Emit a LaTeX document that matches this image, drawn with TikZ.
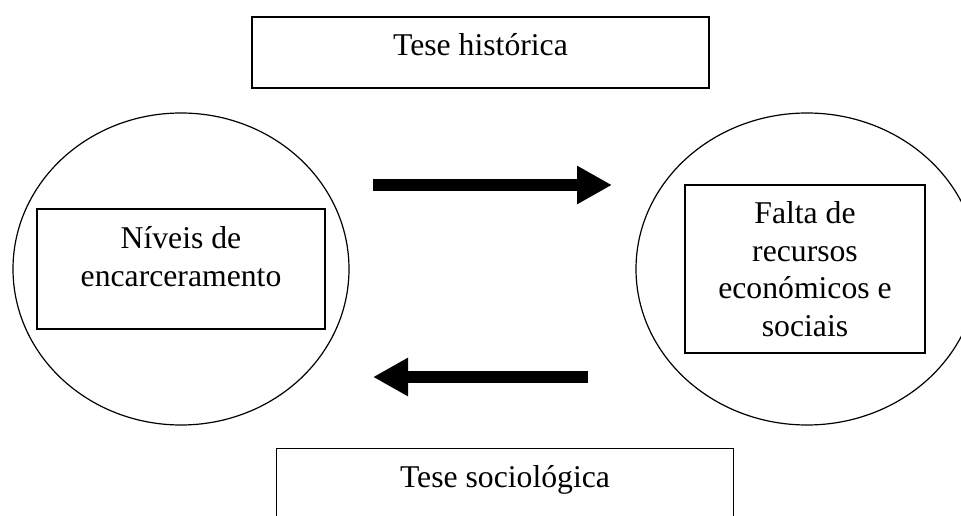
\documentclass[tikz,border=0pt]{standalone}
\usepackage{fontspec}
\setmainfont{Liberation Serif}
\usetikzlibrary{shapes.geometric, arrows.meta, positioning}

\tikzset{
    txt/.style = {font=\fontsize{31.7pt}{37.5pt}\selectfont, align=center, inner sep=0pt},
    box/.style = {draw, line width=1.6pt, rectangle, inner sep=0pt, txt},
    thesis/.style = {box, minimum width=457pt, minimum height=71pt, text height=0.8em, text depth=0.2em},
    circ/.style = {draw, line width=1.2pt, ellipse, inner sep=0pt, minimum height=312pt},
    bigarrow/.style = {line width=12pt, -{Triangle[length=35pt, width=36pt]}}
}

\begin{document}
\begin{tikzpicture}[x=1pt, y=-1pt]
    \useasboundingbox (0,0) rectangle (961,516);

    \node[thesis] (hist) at (480.5,52.5) {Tese histórica};
    \node[thesis] (socio) at (505,484) {Tese sociológica};

    \node[circ, minimum width=336pt] (left) at (181,269) {};
    \node[circ, minimum width=342pt] (right) at (807,269) {};

    \node[box, minimum width=288pt, minimum height=120pt,
          label={[txt, yshift=12.5pt]center:Níveis de\\encarceramento}] (niv) at (181,269) {};
    \node[box, minimum width=240pt, minimum height=168pt] (falta) at (805,269)
        {Falta de\\recursos\\económicos e\\sociais};

    % arrows between the two circles
    \coordinate (a0) at (373,185);
    \coordinate (a1) at (612,185);
    \coordinate (b0) at (588,377);
    \coordinate (b1) at (373,377);
    \draw[bigarrow] (a0) -- (a1);
    \draw[bigarrow] (b0) -- (b1);
\end{tikzpicture}
\end{document}
